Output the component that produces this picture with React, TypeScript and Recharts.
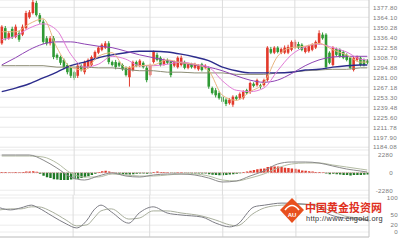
import React from 'react';
import {
  ComposedChart,
  Bar,
  Line,
  XAxis,
  YAxis,
  CartesianGrid,
  ReferenceLine,
  Cell,
} from 'recharts';

// daily candles (price)
const openP = [1328,1349,1335,1348,1337,1342,1340,1349,1364,1370, 1384,1367,1358,1335,1328,1335,1312,1309,1305,1298, 1294,1288,1283,1297,1288,1295,1298,1308,1315,1319, 1322,1328,1302,1302,1301,1298,1294,1281,1291,1302, 1297,1301,1294,1284,1302,1312,1308,1299,1305,1302, 1297,1295,1298,1302,1294,1299,1294,1292,1299,1294, 1294,1266,1263,1259,1254,1250,1245,1243,1254,1252, 1252,1263,1261,1272,1270,1270,1270,1277,1320,1315, 1322,1315,1315,1315,1319,1322,1327,1326,1316,1317, 1319,1322,1328,1340,1340,1315,1298,1320,1319,1316, 1312,1308,1291,1305,1308,1305,1304];
const highP = [1353,1352,1345,1351,1354,1345,1354,1373,1374,1388, 1387,1370,1361,1338,1338,1338,1314,1311,1307,1300, 1296,1290,1300,1299,1304,1307,1311,1318,1324,1328, 1331,1331,1304,1305,1303,1300,1296,1296,1304,1304, 1306,1303,1297,1300,1318,1315,1310,1307,1307,1304, 1304,1310,1311,1304,1301,1301,1301,1299,1301,1299, 1296,1268,1266,1262,1256,1252,1252,1256,1256,1260, 1263,1265,1275,1274,1279,1272,1279,1324,1323,1324, 1324,1322,1325,1326,1332,1333,1330,1328,1324,1326, 1328,1332,1346,1343,1342,1317,1324,1322,1321,1318, 1314,1310,1310,1311,1310,1307,1306];
const lowP = [1326,1332,1333,1334,1335,1330,1338,1347,1362,1368, 1365,1355,1327,1325,1325,1306,1305,1298,1292,1285, 1280,1277,1280,1289,1285,1293,1296,1306,1313,1317, 1320,1299,1296,1292,1295,1290,1282,1268,1289,1295, 1295,1293,1274,1282,1300,1303,1296,1297,1299,1281, 1295,1293,1296,1292,1292,1293,1292,1290,1289,1292, 1265,1257,1253,1250,1244,1241,1243,1240,1249,1250, 1250,1257,1258,1267,1268,1265,1268,1275,1313,1313, 1314,1313,1313,1313,1317,1320,1320,1317,1314,1315, 1317,1320,1326,1333,1292,1299,1296,1310,1308,1306, 1303,1292,1289,1303,1296,1296,1299];
const closeP = [1351,1335,1342,1337,1351,1333,1351,1370,1371,1385, 1367,1358,1330,1328,1335,1309,1308,1301,1295,1288, 1283,1280,1297,1291,1302,1305,1309,1316,1322,1326, 1328,1302,1298,1295,1297,1292,1284,1294,1302,1297, 1304,1295,1277,1298,1316,1305,1298,1305,1301,1284, 1302,1308,1308,1294,1299,1295,1299,1297,1291,1297, 1268,1259,1256,1252,1247,1244,1250,1254,1251,1258, 1261,1259,1273,1269,1277,1268,1277,1322,1315,1322, 1316,1320,1322,1323,1330,1330,1322,1319,1322,1324, 1326,1330,1342,1335,1295,1301,1322,1312,1310,1308, 1305,1294,1308,1309,1298,1298,1301];

// moving averages, read at every 4th candle
const maIdx = [0,4,8,12,16,20,24,28,32,36,40,44,48,52,56,60,64,68,72,76,80,84,88,92,96,100,104,106];
const ma5 = [1344,1344,1355,1362,1322,1295,1291,1310,1315,1294,1297,1298,1305,1301,1299,1290,1256,1249,1261,1273,1310,1322,1324,1328,1319,1312,1302,1302];
const ma10 = [1333,1338,1349,1355,1346,1313,1295,1299,1310,1306,1297,1297,1299,1302,1299,1295,1276,1263,1261,1266,1290,1312,1323,1327,1322,1316,1306,1305];
const ma20 = [1298,1308,1319,1327,1330,1330,1327,1324,1322,1317,1312,1308,1304,1301,1298,1295,1290,1283,1277,1274,1277,1286,1297,1305,1309,1310,1310,1310];
const ma30 = [1261,1266,1272,1280,1288,1297,1302,1308,1312,1315,1317,1317,1316,1313,1309,1304,1295,1290,1287,1287,1287,1288,1291,1292,1295,1297,1298,1298];
const ma60 = [1297,1297,1297,1297,1295,1295,1295,1294,1294,1292,1290,1290,1288,1288,1287,1287,1287,1285,1285,1285,1287,1288,1290,1291,1292,1292,1294,1294];

// MACD
const macdHist = [100,80,60,60,80,60,100,150,150,200, 120,-150,-400,-600,-700,-850,-900,-950,-950,-950, -900,-850,-800,-700,-600,-450,-300,-150,100,200, 250,150,50,-100,-150,-200,-250,-250,-200,-150, -100,-100,-150,-100,100,150,100,80,50,-50, -60,50,60,-50,-80,-100,-100,-100,-120,-100, -200,-280,-300,-320,-320,-300,-250,-200,-150,-80, 80,150,250,350,450,500,550,750,800,820, 800,750,650,600,550,500,400,300,250,200, 150,100,100,50,-100,-200,-150,-200,-250,-300, -300,-350,-300,-300,-300,-280,-250];
const dif = [2300,2300,2300,1650,610,-560,-950,-430,-40,-430,-560,-300,-170,-170,-300,-690,-1210,-1080,-430,220,1130,1390,1390,1260,870,480,220,90];
const dea = [2170,2170,2170,2040,1260,-40,-560,-560,-170,-300,-430,-430,-300,-170,-170,-430,-950,-1080,-690,-170,610,1130,1260,1260,1000,740,480,350];

// KDJ
const kdjIdx = [0,3,6,9,11,15,19,22,25,27,29,32,37,40,44,48,52,58,62,66,68,73,76,81,90,95,99,105,106];
const kLine = [71,65,71,79,71,47,24,12,35,65,79,59,26,56,74,56,50,44,26,15,21,74,79,85,79,50,41,35,32];
const dLine = [65,68,68,74,74,59,35,18,21,41,62,68,38,41,62,62,56,47,35,21,18,56,71,79,82,62,47,38,35];

const priceTicks = ['1377.80','1364.10','1350.28','1336.40','1322.58','1308.70','1294.88','1281.00','1267.18','1253.30','1239.48','1225.60','1211.78','1197.90','1184.08'];
const macdTicks = [2280, 0, -2280];
const kdjTicks = [100, 50, 20, 0];
const monthStarts = [21, 43, 64, 85];

const RED = '#e23a2c';
const GREEN = '#2f9a34';
const AXIS_W = 36;
const FONT = 'Liberation Sans, Arial, sans-serif';

const rows = openP.map((o, i) => ({
  i,
  open: o,
  high: highP[i],
  low: lowP[i],
  close: closeP[i],
  hist: macdHist[i],
} as any));
maIdx.forEach((idx, k) => {
  rows[idx].ma5 = ma5[k];
  rows[idx].ma10 = ma10[k];
  rows[idx].ma20 = ma20[k];
  rows[idx].ma30 = ma30[k];
  rows[idx].ma60 = ma60[k];
  rows[idx].dif = dif[k];
  rows[idx].dea = dea[k];
});
kdjIdx.forEach((idx, k) => {
  rows[idx].k = kLine[k];
  rows[idx].d = dLine[k];
});

const Candle = (props: any) => {
  const { x, y, width, height, payload } = props;
  const { open, close, high, low } = payload;
  const color = close >= open ? RED : GREEN;
  const top = Math.min(y, y + height);
  const h = Math.abs(height);
  const k = h / (high - low || 1);
  const cx = x + width / 2;
  const bodyTop = top + (high - Math.max(open, close)) * k;
  const bodyH = Math.max(1, Math.abs(open - close) * k);
  return (
    <g>
      <line x1={cx} x2={cx} y1={top} y2={top + h} stroke={color} strokeWidth={1} />
      <rect x={cx - 1.3} y={bodyTop} width={2.6} height={bodyH} fill={color} />
    </g>
  );
};

const tickText = (dx: number, anchor: string, fmt: (v: number) => string) => (props: any) => {
  const { x, y, payload } = props;
  return (
    <text x={x + dx} y={y} dy={2.3} textAnchor={anchor} fontSize={6.2} fill="#7a7a7a" fontFamily={FONT} letterSpacing={0.3}>
      {fmt(payload.value)}
    </text>
  );
};

const vLines = monthStarts.map((m) => (
  <ReferenceLine key={m} x={m} stroke="#dcdcdc" strokeWidth={1} />
));

const lineProps = {
  type: 'monotone' as const,
  dot: false,
  activeDot: false,
  connectNulls: true,
  isAnimationActive: false,
  legendType: 'none' as const,
};

export default function App() {
  return (
    <div style={{ position: 'absolute', left: 0, top: 0, width: 405, height: 242, background: '#fff', overflow: 'hidden' }}>
      {/* price panel */}
      <div style={{ position: 'absolute', left: 0, top: 0 }}>
        <ComposedChart width={405} height={150} data={rows} margin={{ top: 0, right: 0, left: 0, bottom: 0 }}>
          <CartesianGrid vertical={false} stroke="#e8e8e8" />
          <XAxis dataKey="i" type="category" hide />
          <YAxis
            orientation="right"
            width={AXIS_W}
            domain={[1180.2, 1388]}
            ticks={priceTicks.map(Number)}
            interval={0}
            tickSize={0}
            tickMargin={0}
            axisLine={{ stroke: '#c4c4c4' }}
            tick={tickText(4, 'start', (v) => v.toFixed(2))}
            allowDataOverflow
          />
          {vLines}
          <Bar dataKey={(d: any) => [d.low, d.high]} shape={<Candle />} isAnimationActive={false} />
          <Line dataKey="ma60" stroke="#8c8c74" strokeWidth={1} {...lineProps} />
          <Line dataKey="ma30" stroke="#2c2c8c" strokeWidth={1.4} {...lineProps} />
          <Line dataKey="ma20" stroke="#8e44b4" strokeWidth={1} {...lineProps} />
          <Line dataKey="ma10" stroke="#e27ad6" strokeWidth={1} {...lineProps} />
          <Line dataKey="ma5" stroke="#e8b680" strokeWidth={1} {...lineProps} />
        </ComposedChart>
      </div>

      {/* MACD panel */}
      <div style={{ position: 'absolute', left: 0, top: 150 }}>
        <ComposedChart width={405} height={45} data={rows} margin={{ top: 0, right: 0, left: 0, bottom: 0 }}>
          <CartesianGrid vertical={false} stroke="#ececec" />
          <XAxis dataKey="i" type="category" hide />
          <YAxis
            orientation="right"
            width={AXIS_W}
            domain={[-2900, 2950]}
            ticks={macdTicks}
            interval={0}
            tickSize={0}
            tickMargin={0}
            axisLine={{ stroke: '#c4c4c4' }}
            tick={tickText(24, 'end', (v) => String(v))}
            allowDataOverflow
          />
          {vLines}
          <ReferenceLine y={0} stroke="#d8a0a0" strokeDasharray="1 1" />
          <Bar dataKey="hist" barSize={2.4} isAnimationActive={false}>
            {rows.map((r: any, idx: number) => (
              <Cell key={idx} fill={r.hist >= 0 ? RED : '#1f7a26'} />
            ))}
          </Bar>
          <Line dataKey="dea" stroke="#b4bca4" strokeWidth={1} {...lineProps} />
          <Line dataKey="dif" stroke="#8a8a8a" strokeWidth={1} {...lineProps} />
        </ComposedChart>
      </div>

      {/* KDJ panel */}
      <div style={{ position: 'absolute', left: 0, top: 195 }}>
        <ComposedChart width={405} height={47} data={rows} margin={{ top: 0, right: 0, left: 0, bottom: 0 }}>
          <CartesianGrid vertical={false} stroke="#ececec" />
          <XAxis
            dataKey="i"
            type="category"
            height={5}
            ticks={monthStarts}
            tickSize={3}
            tick={false}
            axisLine={{ stroke: '#c4c4c4' }}
            tickLine={{ stroke: '#999' }}
          />
          <YAxis
            orientation="right"
            width={AXIS_W}
            domain={[-14.7, 108.8]}
            ticks={kdjTicks}
            interval={0}
            tickSize={0}
            tickMargin={0}
            axisLine={{ stroke: '#c4c4c4' }}
            tick={tickText(29, 'end', (v) => String(v))}
            allowDataOverflow
          />
          {vLines}
          <Line dataKey="d" stroke="#a8ae9c" strokeWidth={1} {...lineProps} />
          <Line dataKey="k" stroke="#7c7c84" strokeWidth={1} {...lineProps} />
        </ComposedChart>
      </div>

      {/* watermark */}
      <svg width={405} height={242} style={{ position: 'absolute', left: 0, top: 0, pointerEvents: 'none' }}>
        <polygon points="292,198 304,210 292,223 280,210" fill="#e8501e" />
        <path d="M285,210 Q292,201 299,210" stroke="#fff" strokeWidth={1.6} fill="none" />
        <text x={292} y={217} textAnchor="middle" fontSize={6} fontWeight="bold" fill="#fff" fontFamily={FONT}>AU</text>
        <text x={305} y={212} fontSize={11} fontWeight="bold" fill="#e0301e" fontFamily="Noto Sans CJK SC, sans-serif">中国黄金投资网</text>
        <text x={306} y={221} fontSize={7.4} fill="#333" fontFamily={FONT} letterSpacing={0.3}>http://www.cngold.org</text>
      </svg>
    </div>
  );
}
